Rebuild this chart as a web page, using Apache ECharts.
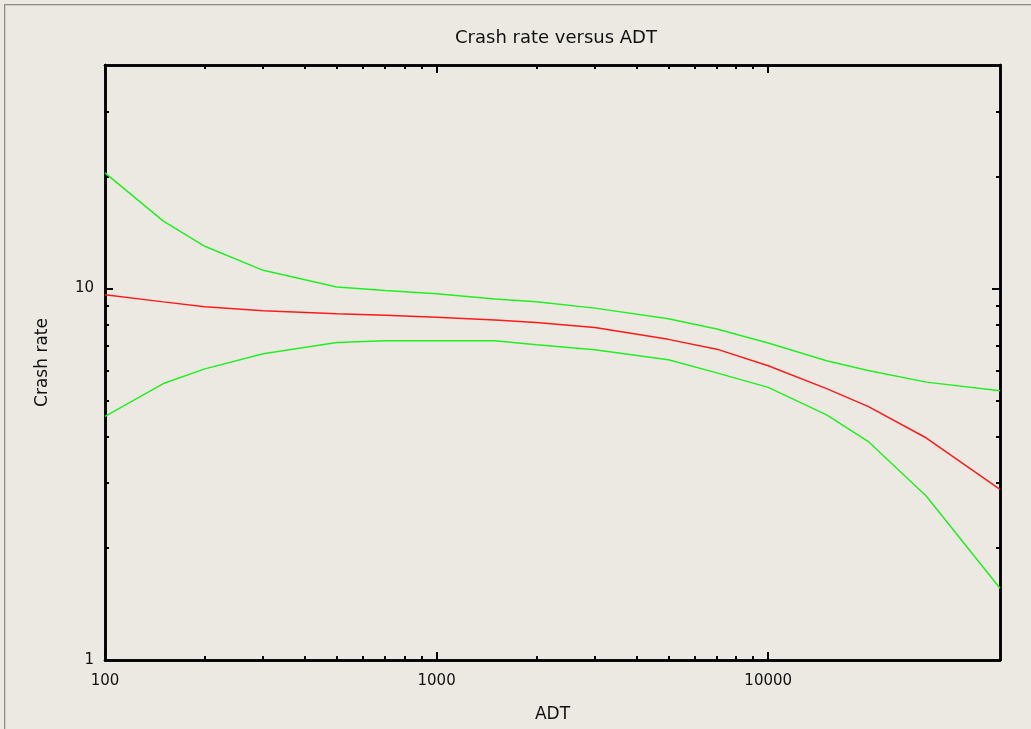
<!DOCTYPE html>
<html>
<head>
<meta charset="utf-8">
<script src="https://cdn.jsdelivr.net/npm/echarts@6/dist/echarts.min.js"></script>
<style>
html,body{margin:0;padding:0;background:#ece9e3;}
#chart{width:1031px;height:729px;position:relative;}
#frame{position:absolute;left:4px;top:4px;width:1027px;height:725px;border-top:1px solid #8c8c8c;border-left:1px solid #8c8c8c;pointer-events:none;box-sizing:border-box;}
#frame2{position:absolute;left:5px;top:5px;width:1026px;height:724px;border-top:1px solid #d0cdc7;border-left:1px solid #d0cdc7;pointer-events:none;box-sizing:border-box;}
</style>
</head>
<body>
<div id="chart"></div>
<div id="frame"></div>
<div id="frame2"></div>
<script>
// ADT values (x) at which the curves are sampled
const adt = [100, 150, 200, 300, 500, 700, 1000, 1500, 2000, 3000, 5000, 7000, 10000, 15000, 20000, 30000, 50000];
// Estimated crash rate (red) and confidence bounds (green)
const crashRate = [9.63, 9.21, 8.94, 8.72, 8.55, 8.48, 8.37, 8.23, 8.1, 7.86, 7.3, 6.87, 6.2, 5.38, 4.82, 3.96, 2.88];
const upperBound = [20.5, 15.2, 13.0, 11.2, 10.1, 9.88, 9.69, 9.38, 9.22, 8.86, 8.3, 7.78, 7.14, 6.39, 6.02, 5.6, 5.31];
const lowerBound = [4.53, 5.55, 6.08, 6.68, 7.16, 7.24, 7.24, 7.24, 7.06, 6.84, 6.43, 5.93, 5.42, 4.57, 3.88, 2.76, 1.56];
// Tick values
const xMajorTicks = [100, 1000, 10000];
const xMinorTicks = [200, 300, 400, 500, 600, 700, 800, 900, 2000, 3000, 4000, 5000, 6000, 7000, 8000, 9000];
const yMajorTicks = [1, 10];
const yMinorTicks = [2, 3, 4, 5, 6, 7, 8, 9, 20, 30];

const FONT = 'DejaVu Sans';
const pair = (xs, ys) => xs.map((x, i) => [x, ys[i]]);

function xAx(pos, ticks, len, opts) {
  return Object.assign({
    type: 'log', logBase: 10, min: 100, max: 50000, position: pos, gridIndex: 0,
    axisLine: {show: true, onZero: false, lineStyle: {color: '#000', width: 2.5}},
    axisTick: {show: true, inside: true, length: len, customValues: ticks, lineStyle: {color: '#000', width: 2}},
    axisLabel: {show: false},
    splitLine: {show: false}, minorTick: {show: false}, minorSplitLine: {show: false}
  }, opts || {});
}
function yAx(pos, ticks, len, opts) {
  return Object.assign({
    type: 'log', logBase: 10, min: 1, max: 40, position: pos, gridIndex: 0,
    axisLine: {show: true, onZero: false, lineStyle: {color: '#000', width: 2.5}},
    axisTick: {show: true, inside: true, length: len, customValues: ticks, lineStyle: {color: '#000', width: 2}},
    axisLabel: {show: false},
    splitLine: {show: false}, minorTick: {show: false}, minorSplitLine: {show: false}
  }, opts || {});
}

const chart = echarts.init(document.getElementById('chart'), null, {renderer: 'canvas'});
chart.setOption({
  backgroundColor: '#ece9e3',
  animation: false,
  title: {
    text: 'Crash rate versus ADT', left: 450, top: 24,
    textStyle: {fontFamily: FONT, fontSize: 18, fontWeight: 'normal', color: '#111'}
  },
  grid: {left: 105, right: 31, top: 65, bottom: 69, containLabel: false},
  xAxis: [
    xAx('bottom', xMajorTicks, 8, {
      name: 'ADT', nameLocation: 'middle', nameGap: 46,
      nameTextStyle: {fontFamily: FONT, fontSize: 17, color: '#111'},
      axisLabel: {show: true, customValues: xMajorTicks, margin: 14, formatter: v => String(v),
        fontFamily: FONT, fontSize: 15, color: '#111'}
    }),
    xAx('bottom', xMinorTicks, 4),
    xAx('top', xMajorTicks, 8),
    xAx('top', xMinorTicks, 4)
  ],
  yAxis: [
    yAx('left', yMajorTicks, 8, {
      name: 'Crash rate', nameLocation: 'middle', nameGap: 54,
      nameTextStyle: {fontFamily: FONT, fontSize: 17, color: '#111'},
      axisLabel: {show: true, customValues: yMajorTicks, margin: 11, formatter: v => String(v),
        fontFamily: FONT, fontSize: 15, color: '#111'}
    }),
    yAx('left', yMinorTicks, 4),
    yAx('right', yMajorTicks, 8),
    yAx('right', yMinorTicks, 4)
  ],
  series: [
    {type: 'line', name: 'Upper', data: pair(adt, upperBound), xAxisIndex: 0, yAxisIndex: 0,
      showSymbol: false, symbol: 'none', lineStyle: {color: '#1ff01f', width: 1.5}},
    {type: 'line', name: 'Crash rate', data: pair(adt, crashRate), xAxisIndex: 0, yAxisIndex: 0,
      showSymbol: false, symbol: 'none', lineStyle: {color: '#ff1a1a', width: 1.5}},
    {type: 'line', name: 'Lower', data: pair(adt, lowerBound), xAxisIndex: 0, yAxisIndex: 0,
      showSymbol: false, symbol: 'none', lineStyle: {color: '#1ff01f', width: 1.5}}
  ]
});
</script>
</body>
</html>
